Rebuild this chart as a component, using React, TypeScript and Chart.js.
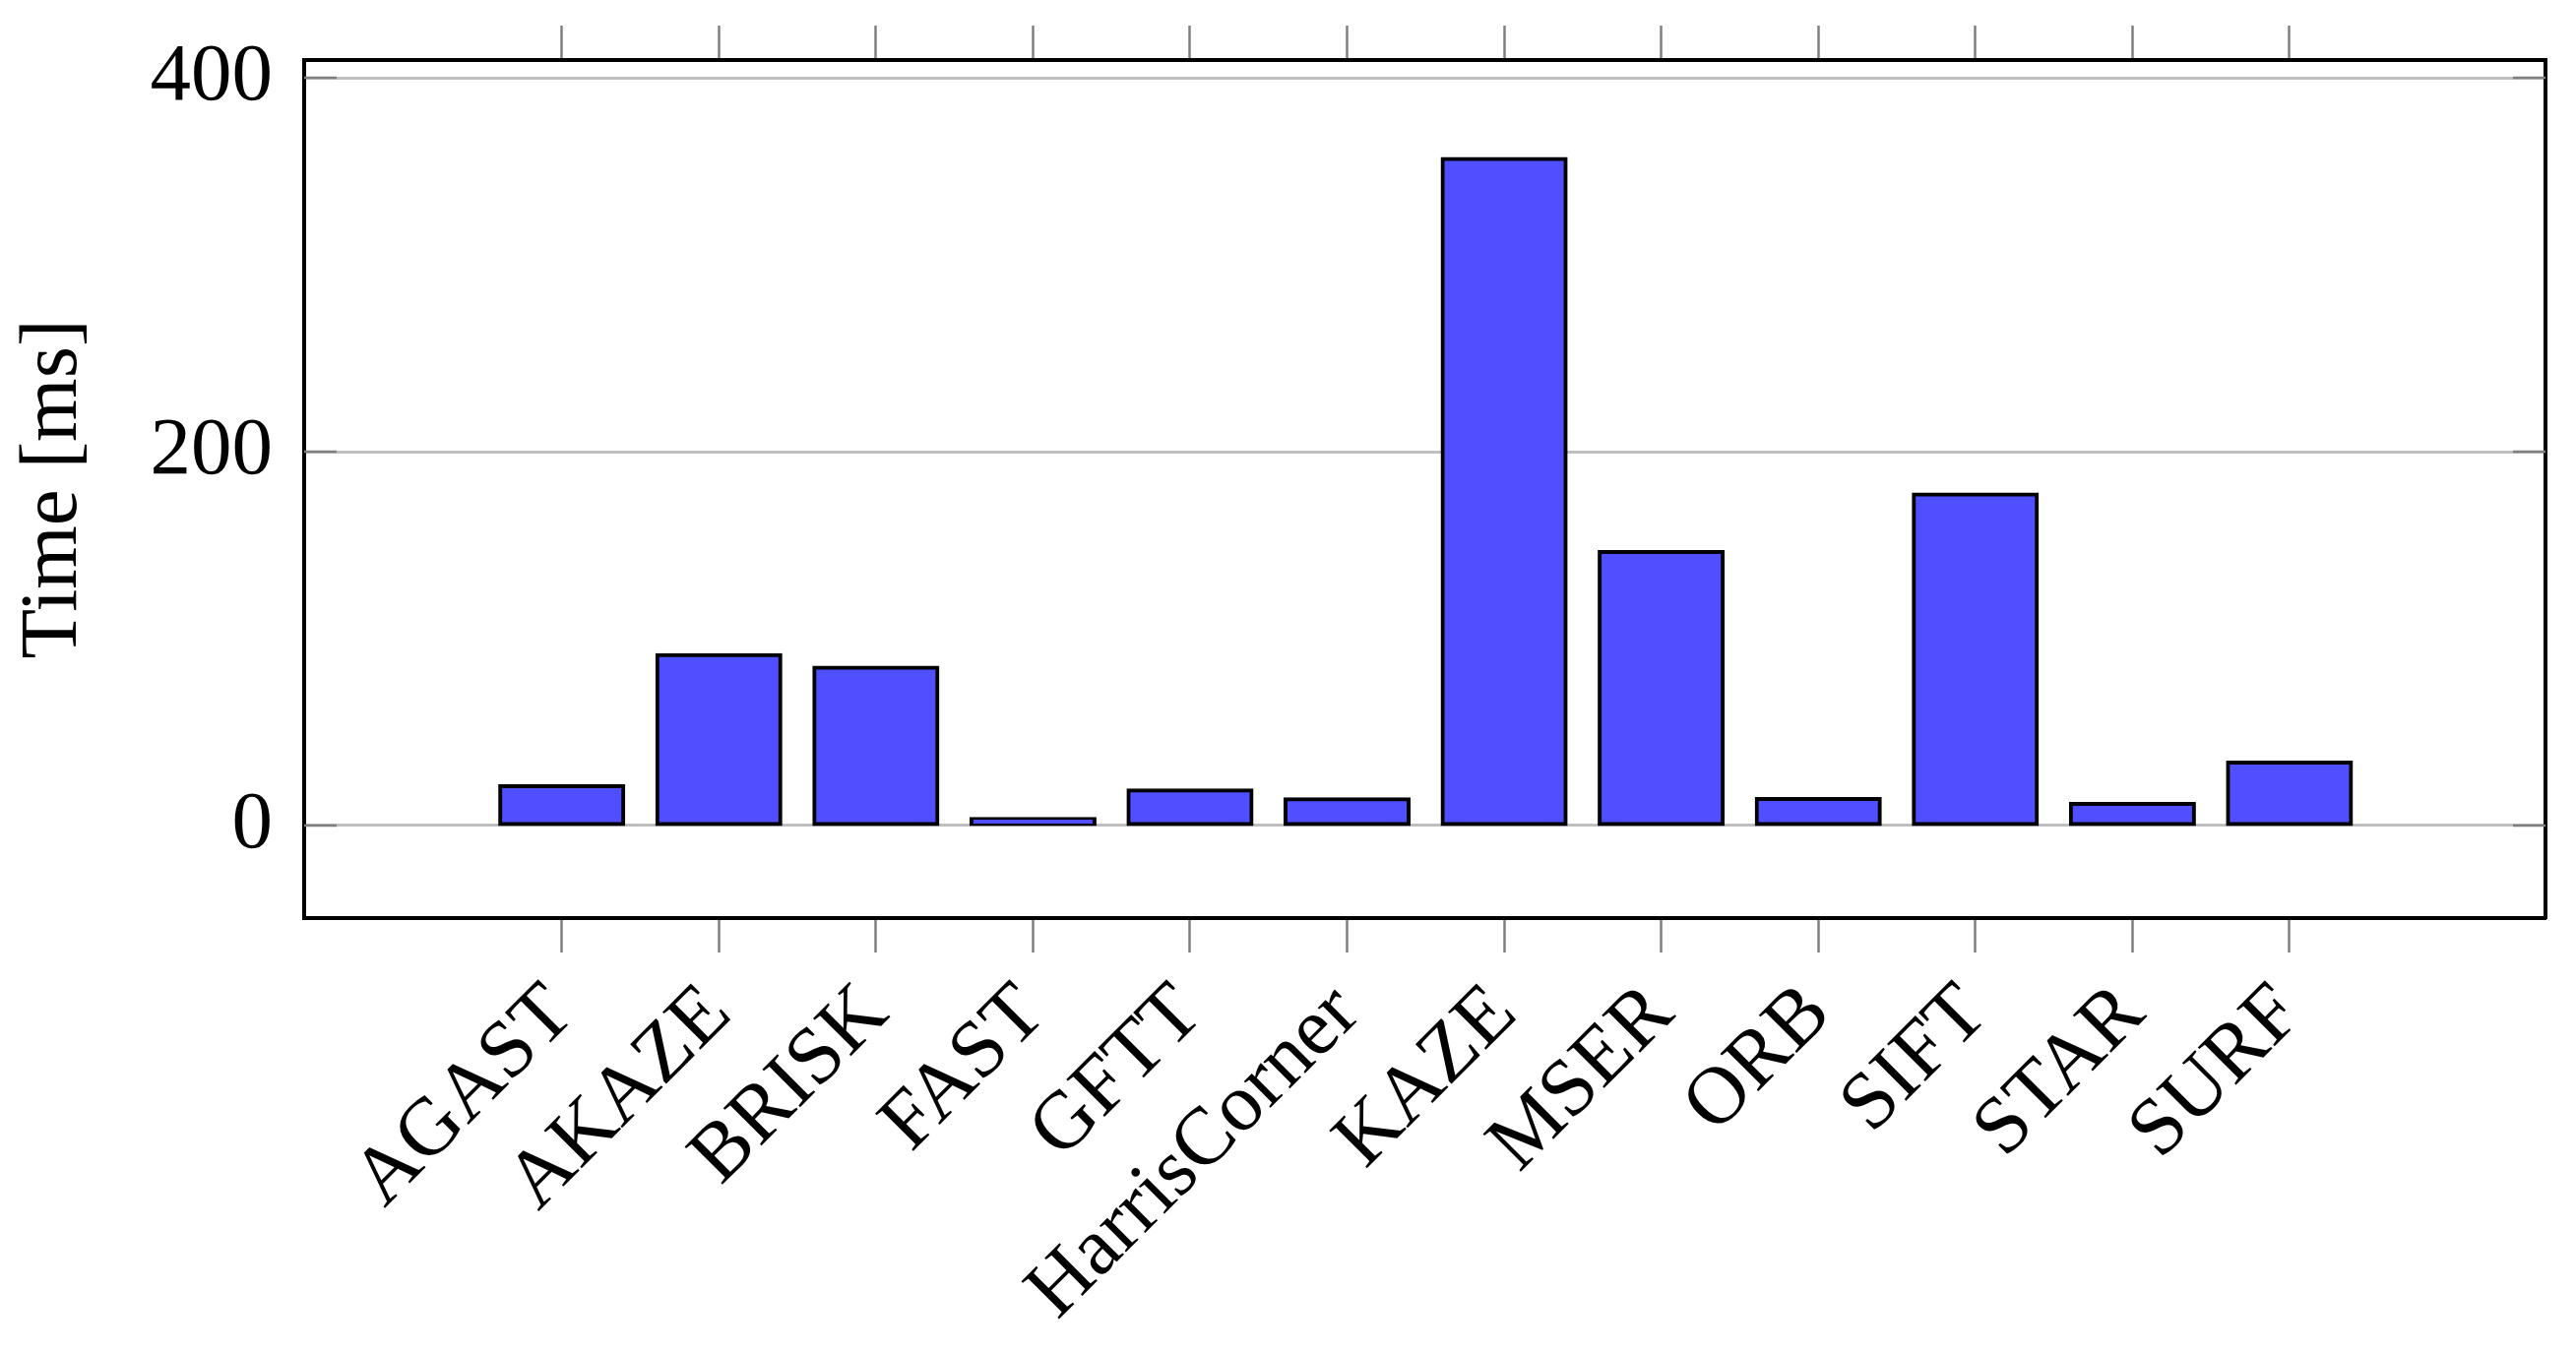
import React, { useEffect, useRef } from "react";
import { Chart, registerables } from "chart.js";

Chart.register(...registerables);

const categories = ["AGAST", "AKAZE", "BRISK", "FAST", "GFTT", "HarrisCorner", "KAZE", "MSER", "ORB", "SIFT", "STAR", "SURF"];
const timesMs = [21, 91.2, 84.4, 3.5, 18.8, 14.1, 356.6, 146.3, 14.2, 177.1, 11.5, 33.7];
const yTickValues = [0, 200, 400];
const xRange = { min: -1.64, max: 12.63 };
const yRange = { min: -49.5, max: 409.5 };
const yTitle = "Time [ms]";

const FONT = "'Liberation Serif', 'Times New Roman', serif";
const FONT_SIZE = 83;

const innerYTicks = {
  id: "innerYTicks",
  afterDatasetsDraw(chart: any) {
    const { ctx, chartArea } = chart;
    const y = chart.scales.y;
    ctx.save();
    ctx.strokeStyle = "#808080";
    ctx.lineWidth = 2.5;
    y.ticks.forEach((t: any) => {
      const py = y.getPixelForValue(t.value);
      ctx.beginPath();
      ctx.moveTo(chartArea.left, py);
      ctx.lineTo(chartArea.left + 33, py);
      ctx.moveTo(chartArea.right - 33, py);
      ctx.lineTo(chartArea.right, py);
      ctx.stroke();
    });
    ctx.restore();
  },
};

const zeroPad = (s: any) => {
  s.paddingTop = 0;
  s.paddingBottom = 0;
  s.paddingLeft = 0;
  s.paddingRight = 0;
};

export default function App() {
  const canvasRef = useRef<HTMLCanvasElement | null>(null);

  useEffect(() => {
    if (!canvasRef.current) return;
    const catTicks = (scale: any) => {
      scale.ticks = categories.map((_, i) => ({ value: i }));
    };
    const chart = new Chart(canvasRef.current, {
      type: "bar",
      data: {
        datasets: [
          {
            data: timesMs.map((v, i) => ({ x: i, y: v })),
            backgroundColor: "#4F4FFF",
            borderColor: "#000000",
            borderWidth: 4,
            borderSkipped: false,
            inflateAmount: 2,
            categoryPercentage: 1,
            barPercentage: 0.784,
          } as any,
        ],
      },
      options: {
        animation: false,
        responsive: true,
        maintainAspectRatio: false,
        layout: { padding: 0 },
        plugins: { legend: { display: false }, tooltip: { enabled: false } },
        scales: {
          x: {
            type: "linear",
            position: "bottom",
            offset: false,
            min: xRange.min,
            max: xRange.max,
            afterBuildTicks: catTicks,
            afterFit: (s: any) => {
              s.height = 441;
              zeroPad(s);
            },
            ticks: {
              autoSkip: false,
              minRotation: 45,
              maxRotation: 45,
              padding: 14,
              color: "#000",
              font: { family: FONT, size: FONT_SIZE },
              callback: (v: any) => categories[Math.round(Number(v))] ?? "",
            },
            grid: {
              offset: false,
              drawOnChartArea: false,
              drawTicks: true,
              tickLength: 35,
              tickColor: "#808080",
              tickWidth: 2.5,
            },
            border: { display: true, color: "#000", width: 4 },
          },
          x2: {
            type: "linear",
            position: "top",
            offset: false,
            min: xRange.min,
            max: xRange.max,
            afterBuildTicks: catTicks,
            afterFit: (s: any) => {
              s.height = 61;
              zeroPad(s);
            },
            ticks: { display: false },
            grid: {
              offset: false,
              drawOnChartArea: false,
              drawTicks: true,
              tickLength: 35,
              tickColor: "#808080",
              tickWidth: 2.5,
            },
            border: { display: true, color: "#000", width: 4 },
          },
          y: {
            type: "linear",
            position: "left",
            min: yRange.min,
            max: yRange.max,
            afterBuildTicks: (s: any) => {
              s.ticks = yTickValues.map((v) => ({ value: v }));
            },
            afterFit: (s: any) => {
              s.width = 309;
              zeroPad(s);
            },
            ticks: {
              padding: 32,
              color: "#000",
              font: { family: FONT, size: FONT_SIZE },
            },
            grid: {
              color: "#BFBFBF",
              lineWidth: 3,
              drawTicks: false,
            },
            border: { display: true, color: "#000", width: 4 },
            title: {
              display: true,
              text: yTitle,
              color: "#000",
              font: { family: FONT, size: FONT_SIZE },
              padding: { top: 5, bottom: 0 },
            },
          },
          y2: {
            type: "linear",
            position: "right",
            min: yRange.min,
            max: yRange.max,
            afterFit: (s: any) => {
              s.width = 31;
              zeroPad(s);
            },
            ticks: { display: false },
            grid: { drawOnChartArea: false, drawTicks: false },
            border: { display: true, color: "#000", width: 4 },
          },
        },
      } as any,
      plugins: [innerYTicks],
    });
    return () => chart.destroy();
  }, []);

  return (
    <div style={{ position: "fixed", left: 0, top: 0, width: "2617px", height: "1374px", background: "#fff" }}>
      <canvas ref={canvasRef} />
    </div>
  );
}
